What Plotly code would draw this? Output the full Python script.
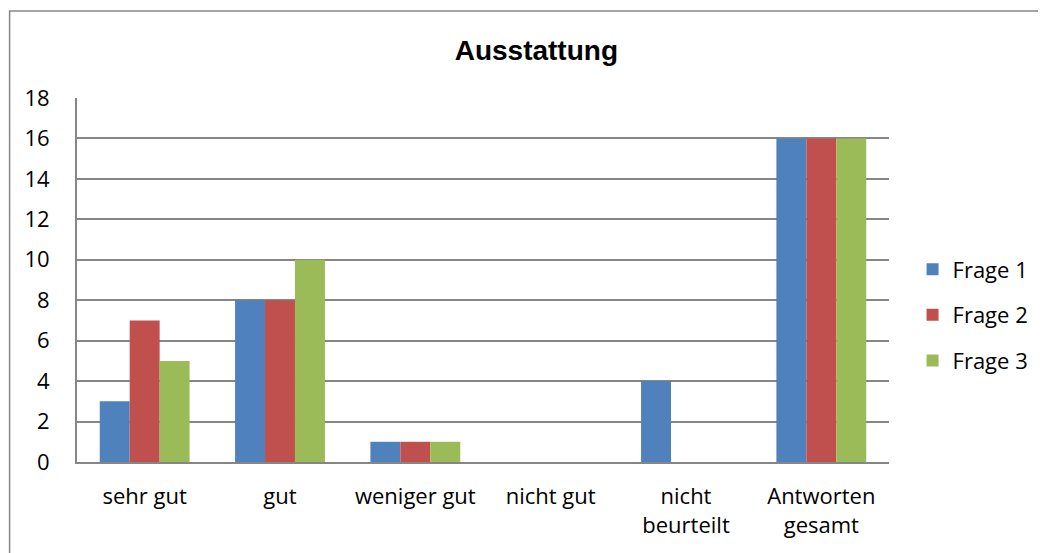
import plotly.graph_objects as go

# ─── Data ───────────────────────────────────────────────────────────────────
categories = ["sehr gut", "gut", "weniger gut", "nicht gut", "nicht<br>beurteilt", "Antworten<br>gesamt"]
frage_1 = [3, 8, 1, 0, 4, 16]
frage_2 = [7, 8, 1, 0, 0, 16]
frage_3 = [5, 10, 1, 0, 0, 16]
series_names = ["Frage 1", "Frage 2", "Frage 3"]
y_ticks = [0, 2, 4, 6, 8, 10, 12, 14, 16, 18]

COLORS = ["#4F81BD", "#C0504D", "#9BBB59"]
GRID = "#868686"
FONT = "Open Sans, Noto Sans, sans-serif"

fig = go.Figure()
for name, vals, col in zip(series_names, [frage_1, frage_2, frage_3], COLORS):
    fig.add_trace(go.Bar(
        name=name,
        x=categories,
        y=vals,
        marker=dict(color=col, line=dict(width=0)),
        legendgroup=name,
    ))

# outer chart border
fig.add_shape(type="rect", xref="paper", yref="paper",
              x0=-0.083, x1=1.25, y0=-0.3, y1=1.239,
              line=dict(color=GRID, width=1.5), layer="below")

fig.update_layout(
    width=1038,
    height=545,
    margin=dict(l=69, r=152, t=90, b=91),
    paper_bgcolor="white",
    plot_bgcolor="white",
    barmode="group",
    bargap=0.336,
    bargroupgap=0,
    font=dict(family=FONT, size=22, color="black"),
    title=dict(
        text="<b>Ausstattung</b>",
        font=dict(family="Liberation Sans, Arial, sans-serif", size=28, color="black"),
        x=0.509, xanchor="center", xref="container",
        y=0.923, yanchor="middle", yref="container",
    ),
    legend=dict(
        x=1.029, xanchor="left", y=0.404, yanchor="middle",
        font=dict(family=FONT, size=22),
        tracegroupgap=14,
        itemwidth=30,
    ),
    xaxis=dict(
        showline=True, linecolor=GRID, linewidth=2,
        ticks="", ticklabelstandoff=14,
        tickfont=dict(size=22),
    ),
    yaxis=dict(
        range=[0, 18],
        tickvals=y_ticks,
        showgrid=True, gridcolor=GRID, gridwidth=1.5,
        showline=True, linecolor=GRID, linewidth=2,
        zeroline=False,
        ticks="", ticklabelstandoff=21,
        tickfont=dict(size=22),
    ),
)

fig.write_html("out.html")
